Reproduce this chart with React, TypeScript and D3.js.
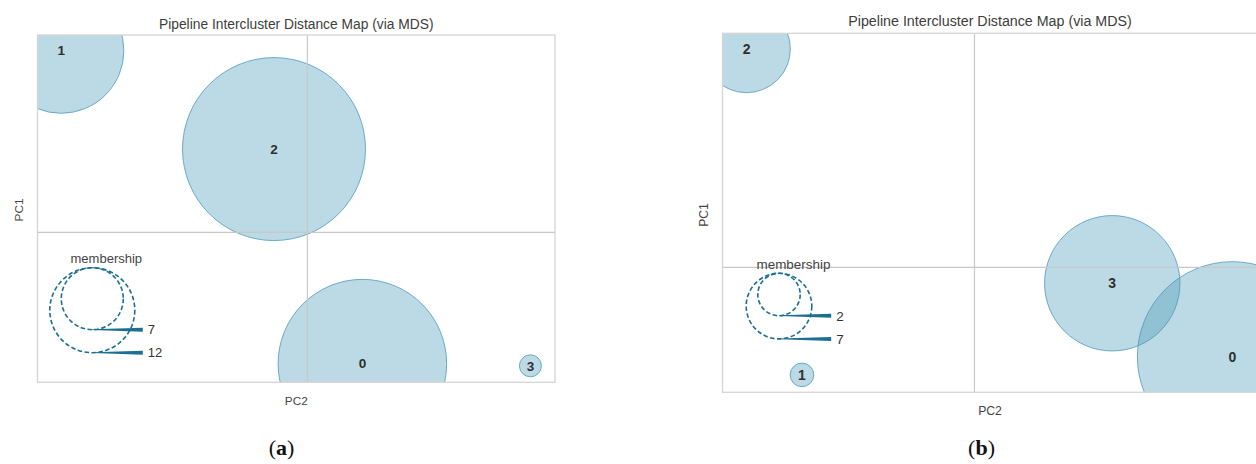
import React from "react";
import * as d3 from "d3";

// ---------- data ----------
// Panel (a)
const clusterIdsA = ["0", "1", "2", "3"];
const pc2A = [0.2126, -0.9515, -0.129, 0.862];
const pc1A = [-0.7555, 1.047, 0.48, -0.768];
const membershipA = [12, 7, 14, 1];
const legendValuesA = [7, 12];

// Panel (b)
const clusterIdsB = ["0", "1", "2", "3"];
const pc2B = [0.964, -0.645, -0.852, 0.515];
const pc1B = [-0.4975, -0.599, 1.217, -0.0886];
const membershipB = [11, 1, 3, 6];
const legendValuesB = [2, 7];

const titleText = "Pipeline Intercluster Distance Map (via MDS)";
const xLabelText = "PC2";
const yLabelText = "PC1";
const legendTitle = "membership";
const captionsText = ["a", "b"];

// ---------- layout / style ----------
const W = 1256;
const H = 464;
const FILL = "rgba(64,148,180,0.35)";
const EDGE = "rgba(78,155,185,0.8)";
const LEGEND = "#1b6f90";
const FONT = "'Liberation Sans', Arial, Helvetica, sans-serif";

type Layout = {
  id: string;
  left: number; right: number; top: number; bottom: number;
  xDomain: [number, number]; yDomain: [number, number];
  rMin: number; rMax: number;
  legendR: [number, number];
  legendCx: number; legendTop: number; legendTitleY: number;
  k: number; // font scale
  titleY: number; xLabelY: number; yLabelX: number; yLabelY: number;
  captionX: number; captionY: number;
};

const layoutA: Layout = {
  id: "a", left: 37.5, right: 555, top: 35, bottom: 382.3,
  xDomain: [-1.043, 0.957], yDomain: [-0.863, 1.137],
  rMin: 11, rMax: 91.5, legendR: [31, 42.5],
  legendCx: 92.3, legendTop: 267.7, legendTitleY: 262.5,
  k: 1, titleY: 28.5, xLabelY: 404.5, yLabelX: 22.5, yLabelY: 210,
  captionX: 281.5, captionY: 455,
};
const layoutB: Layout = {
  id: "b", left: 722.5, right: 1257.5, top: 33.3, bottom: 392.3,
  xDomain: [-0.942, 1.058], yDomain: [-0.696, 1.304],
  rMin: 11.8, rMax: 95, legendR: [21.2, 32.8],
  legendCx: 779, legendTop: 273.3, legendTitleY: 268.5,
  k: 1.034, titleY: 26, xLabelY: 414.5, yLabelX: 707.5, yLabelY: 215,
  captionX: 981.5, captionY: 455,
};

function Panel({ L, ids, xs, ys, members, legendValues, caption }: {
  L: Layout; ids: string[]; xs: number[]; ys: number[]; members: number[];
  legendValues: number[]; caption: string;
}) {
  const x = d3.scaleLinear().domain(L.xDomain).range([L.left, L.right]);
  const y = d3.scaleLinear().domain(L.yDomain).range([L.bottom, L.top]);
  const ext = d3.extent(members) as [number, number];
  const area = d3.scaleLinear().domain(ext).range([L.rMin * L.rMin, L.rMax * L.rMax]);
  const r = (v: number) => Math.sqrt(area(v));
  const lExt = d3.extent(legendValues) as [number, number];
  const lArea = d3.scaleLinear().domain(lExt).range([L.legendR[0] ** 2, L.legendR[1] ** 2]);
  const lr = (v: number) => Math.sqrt(lArea(v));
  const cx = (L.left + L.right) / 2;
  const clipId = "clip-" + L.id;
  const k = L.k;
  const lineEnd = L.legendCx + 50.5 * k;

  return (
    <g>
      <defs>
        <clipPath id={clipId}>
          <rect x={L.left} y={L.top} width={L.right - L.left} height={L.bottom - L.top} />
        </clipPath>
      </defs>
      <text x={cx} y={L.titleY} textAnchor="middle" fontFamily={FONT} fontSize={13.8 * k} fill="#3d3d3d">
        {titleText}
      </text>
      <g clipPath={`url(#${clipId})`}>
        {ids.map((id, i) => (
          <circle key={id} cx={x(xs[i])} cy={y(ys[i])} r={r(members[i])} fill={FILL} stroke={EDGE} strokeWidth={1} />
        ))}
        <line x1={x(0)} x2={x(0)} y1={L.top} y2={L.bottom} stroke="#c8c8c8" strokeWidth={1.2} />
        <line x1={L.left} x2={L.right} y1={y(0)} y2={y(0)} stroke="#c8c8c8" strokeWidth={1.2} />
        {ids.map((id, i) => (
          <text key={"t" + id} x={x(xs[i])} y={y(ys[i])} dy="0.36em" textAnchor="middle" fontFamily={FONT}
            fontWeight="bold" fontSize={13.5 * k} fill="#2f2f2f">{id}</text>
        ))}
      </g>
      <rect x={L.left} y={L.top} width={L.right - L.left} height={L.bottom - L.top} fill="none" stroke="#d4d4d4" strokeWidth={1.3} />
      {/* size legend */}
      <text x={L.legendCx + 14 * k} y={L.legendTitleY} textAnchor="middle" fontFamily={FONT} fontSize={13 * k} fill="#444">
        {legendTitle}
      </text>
      {legendValues.map((v) => {
        const rad = lr(v);
        const cy = L.legendTop + rad;
        const yb = L.legendTop + 2 * rad;
        return (
          <g key={"l" + v}>
            <circle cx={L.legendCx} cy={cy} r={rad} fill="none" stroke={LEGEND} strokeWidth={1.6} strokeDasharray="4.5,2.5" />
            <path d={`M${L.legendCx},${yb - 0.4}L${lineEnd},${yb - 2}L${lineEnd},${yb + 2}L${L.legendCx},${yb + 0.4}Z`} fill={LEGEND} />
            <text x={lineEnd + 5} y={yb} dy="0.36em" fontFamily={FONT} fontSize={13 * k} fill="#333">{v}</text>
          </g>
        );
      })}
      <text x={cx} y={L.xLabelY} textAnchor="middle" fontFamily={FONT} fontSize={11.8 * k} fill="#444">{xLabelText}</text>
      <text transform={`translate(${L.yLabelX},${L.yLabelY}) rotate(-90)`} textAnchor="middle" fontFamily={FONT}
        fontSize={11.8 * k} fill="#444">{yLabelText}</text>
      <text x={L.captionX} y={L.captionY} textAnchor="middle" fontFamily="'Liberation Serif', 'DejaVu Serif', serif"
        fontSize={22} fill="#111">
        (<tspan fontWeight="bold">{caption}</tspan>)
      </text>
    </g>
  );
}

export default function App() {
  return (
    <svg width={W} height={H} style={{ position: "absolute", left: 0, top: 0, display: "block", background: "#fff" }}>
      <rect width={W} height={H} fill="#fff" />
      <Panel L={layoutA} ids={clusterIdsA} xs={pc2A} ys={pc1A} members={membershipA}
        legendValues={legendValuesA} caption={captionsText[0]} />
      <Panel L={layoutB} ids={clusterIdsB} xs={pc2B} ys={pc1B} members={membershipB}
        legendValues={legendValuesB} caption={captionsText[1]} />
    </svg>
  );
}
